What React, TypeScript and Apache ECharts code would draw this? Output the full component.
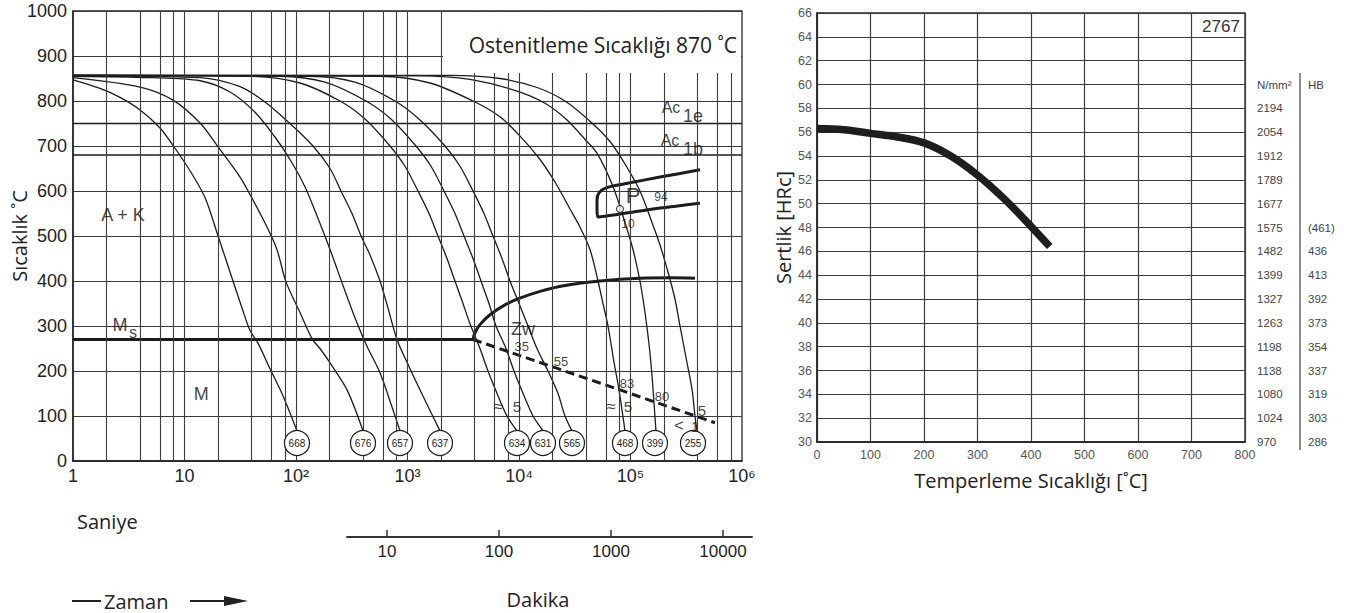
import React, { useEffect, useRef } from 'react';
import * as echarts from 'echarts';

// ---------- Left chart (CCT diagram): time [s] vs temperature [°C] ----------
const curve668 = [[1,847],[1.75,828],[2.64,808],[4.0,780],[6.03,740],[8.22,695],[11.2,645],[15.3,585],[20.0,500],[25.6,420],[32.8,340],[38.7,290],[45.6,262],[58.5,205],[76.4,145],[102,67]];
const curve676 = [[1,852],[3.99,831],[7.89,802],[13.8,751],[20.0,698],[31.5,631],[41.1,580],[54.9,520],[67.5,470],[81.3,398],[108.6,330],[139,272],[164,250],[202,218],[287,158],[399,67]];
const curve657 = [[1,855],[4.9,852],[13.8,845],[25.6,820],[42.9,775],[64.8,720],[88.3,670],[120,610],[157,540],[202,470],[264,390],[352,307],[433,255],[567,196],[726,120],[856,67]];
const curve637 = [[1,856],[13.8,852],[31.5,832],[52.7,798],[88.3,750],[142,700],[202,650],[253,600],[318,550],[383,500],[461,458],[567,400],[668,340],[805,270],[1053,205],[1435,135],[1957,67]];
const curve634 = [[1,857],[38.7,855],[108.6,840],[248,800],[416,760],[696,700],[949,655],[1242,600],[1559,550],[1877,500],[2260,450],[2666,400],[3145,350],[3635,305],[4468,250],[5271,200],[6481,145],[7804,100],[9590,67]];
const curve631 = [[1,857],[71.8,855],[182,842],[424,800],[726,758],[1191,700],[1624,655],[2125,600],[2666,550],[3211,500],[3867,450],[4561,400],[5381,350],[6218,300],[7644,250],[9015,200],[11090,145],[13350,100],[16410,67]];
const curve565 = [[1,857],[133.5,855],[338,842],[772,800],[1294,758],[2169,700],[2957,655],[3867,600],[4853,550],[5844,500],[7037,450],[8303,400],[10000,350],[12040,300],[14500,250],[18200,200],[22370,150],[25850,100],[29870,67]];
const curve468 = [[1,857],[567,855],[1591,840],[3867,800],[6754,765],[10210,722],[15430,670],[21030,620],[28670,560],[35240,520],[43320,470],[51100,400],[57840,340],[62830,300],[71100,220],[78850,158],[89230,67]];
const curve399 = [[1,857],[1294,856],[3635,848],[9590,822],[17100,795],[26940,758],[39070,715],[50060,684],[69650,610],[89230,530],[105300,470],[121600,400],[134900,330],[146500,260],[155900,190],[162400,130],[169200,67]];
const curve255 = [[1,857],[2405,857],[6754,850],[14500,830],[25850,800],[43320,755],[65480,710],[89230,660],[121600,600],[155900,530],[183900,480],[216900,420],[250600,360],[277900,300],[314500,230],[356100,160],[378800,100],[394800,67]];
const coolingCurves = [curve668, curve676, curve657, curve637, curve634, curve631, curve565, curve468, curve399, curve255];

// hardness (HV) circles at the end of each cooling curve
const circleLabels = ['668','676','657','637','634','631','565','468','399','255'];
const circleTimes = [102, 399, 856, 1957, 9590, 16410, 29870, 89230, 165800, 363500];
const circleTemp = 40;

const ac1e = [[1,750],[1e6,750]];
const ac1b = [[1,680],[1e6,680]];
const msLine = [[1,270],[3867,270]];
const bainiteStart = [[3867,270],[4030,285],[4468,303],[5494,325],[7487,347],[10210,362],[15430,377],[25850,390],[53260,400],[121600,406],[226000,407],[378800,406]];
const martensiteDashed = [[3867,270],[20180,209],[80500,158],[403000,98],[572400,85]];
const pearlite = [[419900,647],[183900,631],[89230,616],[60280,607],[52170,596],[50060,580],[50060,560],[51100,542],[98930,552],[183900,562],[419900,573]];
const pearliteMarker = [[80500,560]];

// text annotations: [text, time, temperature, fontSize, narrow?]
const annotations = [
  ['A + K', 2.81, 547, 18, 0],
  ['M', 2.64, 302, 18, 0],
  ['s', 3.45, 286, 16, 0],
  ['M', 14.1, 149, 18, 0],
  ['Zw', 10860, 293, 18, 0],
  ['35', 10600, 254, 13, 1],
  ['55', 23800, 222, 13, 1],
  ['≈', 6481, 122, 17, 0],
  ['5', 9600, 122, 15, 1],
  ['83', 92980, 173, 13, 1],
  ['≈', 66850, 122, 17, 0],
  ['5', 94900, 122, 15, 1],
  ['80', 191700, 144, 13, 1],
  ['5', 437700, 113, 15, 1],
  ['<', 272200, 78, 17, 0],
  ['1', 378800, 76, 14, 1],
  ['P', 105300, 591, 22, 0],
  ['94', 187700, 587, 12, 1],
  ['10', 94900, 527, 12, 1],
  ['Ac', 230800, 786, 16, 0],
  ['1e', 363500, 767, 18, 0],
  ['Ac', 226000, 713, 16, 0],
  ['1b', 363500, 694, 18, 0],
];

const xExpLabels = ['1', '10', '10²', '10³', '10⁴', '10⁵', '10⁶'];
const minorGridTimes = [2,4,6,8,10,20,40,60,80,100,200,400,600,800,1000,2000,4000,6000,8000,10000,20000,40000,60000,80000,100000,200000,400000,600000,800000];
const minuteTicks = [10, 100, 1000, 10000];

// ---------- Right chart: tempering ----------
const temperTemps = [0, 50, 100, 150, 200, 250, 300, 350, 400, 435];
const hardnessHRC = [56.3, 56.2, 55.9, 55.6, 55.1, 54.0, 52.4, 50.4, 48.1, 46.4];
const tableHRC = [60, 58, 56, 54, 52, 50, 48, 46, 44, 42, 40, 38, 36, 34, 32, 30];
const tensile = ['N/mm²','2194','2054','1912','1789','1677','1575','1482','1399','1327','1263','1198','1138','1080','1024','970'];
const brinell = ['HB','','','','','','(461)','436','413','392','373','354','337','319','303','286'];

const INK = '#1c1c1c';
const GRIDC = '#3c3c3c';
const SANS = '"Liberation Sans", "DejaVu Sans", Arial, sans-serif';
const NARROW = '"Liberation Sans Narrow", "Liberation Sans", Arial, sans-serif';
const HUMAN = '"Open Sans", "Noto Sans", sans-serif';

function tableLabel(list: string[]) {
  return (v: number) => {
    const i = tableHRC.indexOf(Math.round(v));
    return i >= 0 ? list[i] : '';
  };
}

export default function App() {
  const ref = useRef<HTMLDivElement>(null);
  useEffect(() => {
    if (!ref.current) return;
    const chart = echarts.init(ref.current, undefined, { renderer: 'svg' });

    const curveSeries = coolingCurves.map((d, i) => ({
      type: 'line', name: 'c' + circleLabels[i], xAxisIndex: 0, yAxisIndex: 0,
      data: d, showSymbol: false, smooth: 0.3, silent: true,
      lineStyle: { color: INK, width: 1.3 }, z: 3,
    }));

    const option: any = {
      animation: false,
      backgroundColor: '#ffffff',
      grid: [
        { left: 73, top: 11, width: 669, height: 450, show: true, borderColor: '#2a2a2a', borderWidth: 1.3, backgroundColor: 'transparent', outerBoundsMode: 'none' },
        { left: 817, top: 13, width: 428, height: 429, show: true, borderColor: '#2a2a2a', borderWidth: 1.3, backgroundColor: 'transparent', outerBoundsMode: 'none' },
        { left: 347, top: 500, width: 405, height: 37, outerBoundsMode: 'none' },
      ],
      xAxis: [
        {
          gridIndex: 0, type: 'log', logBase: 10, min: 1, max: 1e6, splitNumber: 6,
          axisLine: { show: true, lineStyle: { color: '#222', width: 1.5 } },
          axisTick: { show: false }, splitLine: { show: false },
          axisLabel: { fontSize: 18, color: '#222', margin: 6, fontFamily: SANS,
            formatter: (v: number) => xExpLabels[Math.round(Math.log10(v))] ?? '' },
        },
        {
          gridIndex: 1, type: 'value', min: 0, max: 800, interval: 100,
          axisLine: { show: true, lineStyle: { color: '#222', width: 1.5 } },
          axisTick: { show: false },
          splitLine: { show: true, lineStyle: { color: GRIDC, width: 1.2 } },
          axisLabel: { fontSize: 12.5, color: '#555', margin: 6, fontFamily: SANS },
          name: 'Temperleme Sıcaklığı [˚C]', nameLocation: 'middle', nameGap: 28,
          nameTextStyle: { fontSize: 20, color: '#222', fontFamily: HUMAN },
        },
        {
          gridIndex: 2, type: 'log', logBase: 10, min: 4.4, max: 18150,
          axisLine: { show: true, lineStyle: { color: '#333', width: 2 } },
          axisTick: { show: true, inside: true, length: 7, customValues: minuteTicks, lineStyle: { color: '#333', width: 1.5 } },
          axisLabel: { customValues: minuteTicks, fontSize: 17, color: '#222', margin: 6, fontFamily: SANS,
            formatter: (v: number) => { const r = Math.round(v); return minuteTicks.indexOf(r) >= 0 && Math.abs(v - r) < 1e-6 * r ? String(r) : ''; } },
          splitLine: { show: false },
        },
      ],
      yAxis: [
        {
          gridIndex: 0, type: 'value', min: 0, max: 1000, interval: 100,
          axisLine: { show: true, lineStyle: { color: '#222', width: 1.5 } },
          axisTick: { show: false },
          splitLine: { show: true, lineStyle: { color: GRIDC, width: 1.1 } },
          axisLabel: { fontSize: 18, color: '#222', margin: 6, fontFamily: SANS, formatter: (v: number) => String(v) },
          name: 'Sıcaklık ˚C', nameLocation: 'middle', nameGap: 44, nameRotate: 90,
          nameTextStyle: { fontSize: 20, color: '#222', fontFamily: HUMAN }, nameMoveOverlap: false,
        },
        {
          gridIndex: 1, type: 'value', min: 30, max: 66, interval: 2,
          axisLine: { show: true, lineStyle: { color: '#222', width: 1.5 } },
          axisTick: { show: false },
          splitLine: { show: true, lineStyle: { color: GRIDC, width: 1.2 } },
          axisLabel: { fontSize: 12.5, color: '#555', margin: 5, fontFamily: SANS },
          name: 'Sertlik [HRc]', nameLocation: 'middle', nameGap: 24, nameRotate: 90,
          nameTextStyle: { fontSize: 20, color: '#222', fontFamily: HUMAN }, nameMoveOverlap: false,
        },
        {
          gridIndex: 1, type: 'value', position: 'right', offset: 0, min: 30, max: 66, interval: 2,
          axisLine: { show: false }, axisTick: { show: false }, splitLine: { show: false },
          axisLabel: { fontSize: 11.5, color: '#444', margin: 12, fontFamily: SANS, formatter: tableLabel(tensile) },
        },
        {
          gridIndex: 1, type: 'value', position: 'right', offset: 51, min: 30, max: 66, interval: 2,
          axisLine: { show: false }, axisTick: { show: false }, splitLine: { show: false },
          axisLabel: { fontSize: 11.5, color: '#444', margin: 12, fontFamily: SANS, formatter: tableLabel(brinell) },
        },
        { gridIndex: 2, type: 'value', show: false, min: 0, max: 1 },
      ],
      series: [
        // Ac1e line, carrying the vertical log grid lines
        {
          type: 'line', xAxisIndex: 0, yAxisIndex: 0, data: ac1e, silent: true, z: 2,
          lineStyle: { color: INK, width: 1.6 }, showSymbol: false,
          markLine: {
            silent: true, symbol: ['none', 'none'], label: { show: false }, animation: false,
            lineStyle: { color: GRIDC, width: 1.1, type: 'solid' },
            data: minorGridTimes.map((t) => ({ xAxis: t })),
          },
        },
        { type: 'line', xAxisIndex: 0, yAxisIndex: 0, data: ac1b, silent: true, z: 2, showSymbol: false, lineStyle: { color: INK, width: 1.6 } },
        ...curveSeries,
        { type: 'line', xAxisIndex: 0, yAxisIndex: 0, data: msLine, silent: true, z: 4, showSymbol: false, lineStyle: { color: INK, width: 3 } },
        { type: 'line', xAxisIndex: 0, yAxisIndex: 0, data: bainiteStart, silent: true, z: 4, showSymbol: false, smooth: 0.4, lineStyle: { color: INK, width: 3 } },
        { type: 'line', xAxisIndex: 0, yAxisIndex: 0, data: martensiteDashed, silent: true, z: 4, showSymbol: false, lineStyle: { color: INK, width: 3, type: [9, 5] } },
        { type: 'line', xAxisIndex: 0, yAxisIndex: 0, data: pearlite, silent: true, z: 4, showSymbol: false, smooth: 0.3, lineStyle: { color: INK, width: 3 } },
        { type: 'scatter', xAxisIndex: 0, yAxisIndex: 0, data: pearliteMarker, symbol: 'circle', symbolSize: 7, silent: true, z: 5,
          itemStyle: { color: '#fff', borderColor: INK, borderWidth: 1.2 } },
        {
          type: 'scatter', xAxisIndex: 0, yAxisIndex: 0, silent: true, z: 5,
          data: circleTimes.map((t, i) => [t, circleTemp, circleLabels[i]]),
          symbol: 'circle', symbolSize: 25,
          itemStyle: { color: '#ffffff', borderColor: INK, borderWidth: 1.2, opacity: 1 },
          label: { show: true, position: 'inside', formatter: (p: any) => p.value[2], fontSize: 10, color: INK, fontFamily: NARROW },
        },
        {
          type: 'scatter', xAxisIndex: 0, yAxisIndex: 0, silent: true, z: 6, symbolSize: 1,
          itemStyle: { color: 'rgba(0,0,0,0)' },
          label: { show: true, position: 'inside', color: INK },
          data: annotations.map((a) => ({
            value: [a[1], a[2]],
            label: { show: true, formatter: String(a[0]), fontSize: a[3], color: '#111', fontFamily: a[4] ? NARROW : SANS, textBorderWidth: 0 },
          })),
        },
        // tempering curve
        {
          type: 'line', xAxisIndex: 1, yAxisIndex: 1, silent: true, showSymbol: false, smooth: 0.35, z: 4,
          data: temperTemps.map((t, i) => [t, hardnessHRC[i]]),
          lineStyle: { color: '#1e1e1e', width: 7.5, cap: 'butt' },
        },
      ],
      graphic: [
        { type: 'rect', z: 10, shape: { x: 443, y: 12, width: 298, height: 61 }, style: { fill: '#ffffff' } },
        { type: 'text', z: 11, x: 737, y: 45, style: { text: 'Ostenitleme Sıcaklığı 870 ˚C', fontSize: 21, fontFamily: HUMAN, fill: '#222', align: 'right', textAlign: 'right', verticalAlign: 'middle', textVerticalAlign: 'middle' } },
        { type: 'text', z: 11, x: 1221, y: 26, style: { text: '2767', fontSize: 17, fontFamily: SANS, fill: '#333', align: 'center', textAlign: 'center', verticalAlign: 'middle', textVerticalAlign: 'middle' } },
        { type: 'line', z: 11, shape: { x1: 1300, y1: 73, x2: 1300, y2: 450 }, style: { stroke: '#444', lineWidth: 1.2 } },
        { type: 'text', z: 11, x: 77, y: 521, style: { text: 'Saniye', fontSize: 20, fontFamily: HUMAN, fill: '#222', align: 'left', textAlign: 'left', verticalAlign: 'middle', textVerticalAlign: 'middle' } },
        { type: 'text', z: 11, x: 538, y: 599, style: { text: 'Dakika', fontSize: 20, fontFamily: HUMAN, fill: '#222', align: 'center', textAlign: 'center', verticalAlign: 'middle', textVerticalAlign: 'middle' } },
        { type: 'line', z: 11, shape: { x1: 72, y1: 601, x2: 101, y2: 601 }, style: { stroke: '#222', lineWidth: 2 } },
        { type: 'text', z: 11, x: 104, y: 601, style: { text: 'Zaman', fontSize: 20, fontFamily: HUMAN, fill: '#222', align: 'left', textAlign: 'left', verticalAlign: 'middle', textVerticalAlign: 'middle' } },
        { type: 'line', z: 11, shape: { x1: 190, y1: 601, x2: 228, y2: 601 }, style: { stroke: '#222', lineWidth: 2 } },
        { type: 'polygon', z: 11, shape: { points: [[224, 596], [248, 601], [224, 606]] }, style: { fill: '#222' } },
      ],
    };
    chart.setOption(option);
    return () => chart.dispose();
  }, []);
  return <div ref={ref} style={{ position: 'fixed', left: 0, top: 0, width: 1353, height: 613, background: '#fff' }} />;
}
